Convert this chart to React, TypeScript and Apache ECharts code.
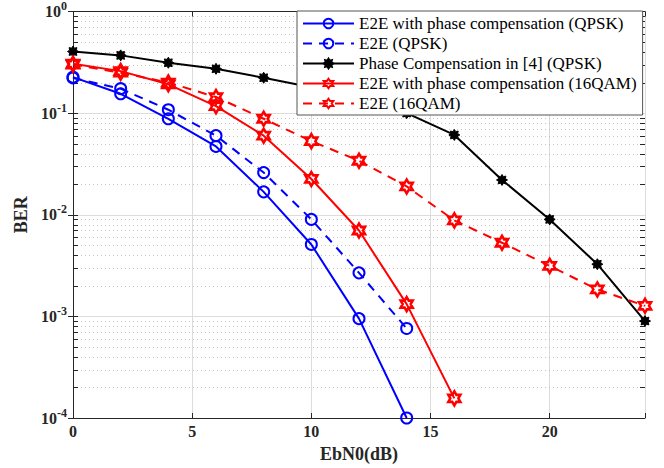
import React, { useEffect, useRef } from 'react';
import * as echarts from 'echarts';

const FONT = '"Liberation Serif", "Times New Roman", serif';

const ebn0 = [0, 2, 4, 6, 8, 10, 12, 14, 16, 18, 20, 22, 24];
const xTicks = [0, 5, 10, 15, 20];
const yDecades = [1e-4, 1e-3, 1e-2, 1e-1, 1];

const qpskE2EPhase = [0.226, 0.155, 0.088, 0.047, 0.0168, 0.0051, 0.00095, 0.0001];
const qpskE2E = [0.222, 0.174, 0.108, 0.06, 0.026, 0.009, 0.00268, 0.00076];
const phaseComp4 = [0.404, 0.37, 0.313, 0.273, 0.223, 0.18, 0.143, 0.1, 0.061, 0.022, 0.009, 0.00326, 0.0009];
const qam16E2EPhase = [0.306, 0.259, 0.192, 0.117, 0.06, 0.0225, 0.007, 0.00132, 0.000156];
const qam16E2E = [0.3, 0.25, 0.2, 0.144, 0.088, 0.053, 0.034, 0.019, 0.0088, 0.0053, 0.00314, 0.00184, 0.00127];

const names = [
  'E2E with phase compensation (QPSK)',
  'E2E (QPSK)',
  'Phase Compensation in [4] (QPSK)',
  'E2E with phase compensation (16QAM)',
  'E2E (16QAM)',
];

// minor log grid positions (2..9 within each decade)
const minorVals: number[] = [];
for (let d = -4; d < 0; d++) {
  for (let m = 2; m <= 9; m++) minorVals.push(m * Math.pow(10, d));
}

const HEXAGRAM =
  'path://M0,-10 L2.89,-5 L8.66,-5 L5.77,0 L8.66,5 L2.89,5 L0,10 L-2.89,5 L-8.66,5 L-5.77,0 L-8.66,-5 L-2.89,-5 Z';
const ASTER =
  'path://M0,-10 L2.5,-6 L7.07,-7.07 L6,-2.5 L10,0 L6,2.5 L7.07,7.07 L2.5,6 L0,10 L-2.5,6 L-7.07,7.07 L-6,2.5 L-10,0 L-6,-2.5 L-7.07,-7.07 L-2.5,-6 Z';

const pairs = (vals: number[]) => vals.map((v, i) => [ebn0[i], v]);

export default function App() {
  const ref = useRef<HTMLDivElement>(null);
  useEffect(() => {
    if (!ref.current) return;
    const chart = echarts.init(ref.current, null, { renderer: 'svg' });
    const axisColor = '#262626';
    const mk = (
      name: string,
      data: number[],
      color: string,
      dashed: boolean,
      symbol: string,
      size: any,
      filled: boolean,
      bw: number
    ) => ({
      name,
      type: 'line',
      data: pairs(data),
      clip: false,
      symbol,
      symbolSize: size,
      showAllSymbol: true,
      color,
      lineStyle: { color, width: 2, type: dashed ? [9, 7] : 'solid' },
      itemStyle: filled
        ? { color, borderColor: color, borderWidth: bw }
        : { color: 'rgba(0,0,0,0)', borderColor: color, borderWidth: bw },
      emphasis: { disabled: true },
      z: 3,
    });
    chart.setOption({
      animation: false,
      backgroundColor: '#fff',
      grid: { left: 73, right: 19, top: 11, bottom: 50, containLabel: false },
      legend: {
        data: names,
        orient: 'vertical',
        left: 297,
        top: 11,
        padding: [4, 6, 3, 5],
        itemWidth: 51,
        itemHeight: 12,
        itemGap: 3,
        backgroundColor: '#fff',
        borderColor: '#555',
        borderWidth: 1,
        borderRadius: 0,
        selectedMode: false,
        textStyle: { fontFamily: FONT, fontSize: 17, color: '#000' },
        z: 10,
      },
      xAxis: [
        {
          type: 'value',
          min: 0,
          max: 24,
          interval: 5,
          name: 'EbN0(dB)',
          nameLocation: 'middle',
          nameGap: 27,
          nameTextStyle: { fontFamily: FONT, fontSize: 18, fontWeight: 'bold', color: '#262626' },
          axisLine: { show: true, lineStyle: { color: axisColor, width: 1 } },
          axisTick: { show: true, inside: true, length: 5, lineStyle: { color: axisColor } },
          axisLabel: {
            margin: 5,
            fontFamily: FONT,
            fontSize: 16,
            fontWeight: 'bold',
            color: '#262626',
            formatter: (v: number) => (xTicks.includes(v) ? String(v) : ''),
          },
          splitLine: { show: true, lineStyle: { color: '#dcdcdc', width: 1 } },
        },
        {
          type: 'value',
          position: 'top',
          min: 0,
          max: 24,
          interval: 5,
          axisLine: { show: true, lineStyle: { color: axisColor, width: 1 } },
          axisTick: { show: true, inside: true, length: 5, lineStyle: { color: axisColor } },
          axisLabel: { show: false },
          splitLine: { show: false },
        },
      ],
      yAxis: [
        {
          type: 'log',
          logBase: 10,
          min: 1e-4,
          max: 1,
          name: 'BER',
          nameLocation: 'middle',
          nameRotate: 90,
          nameGap: 42,
          nameTextStyle: { fontFamily: FONT, fontSize: 18, fontWeight: 'bold', color: '#262626' },
          axisLine: { show: true, lineStyle: { color: axisColor, width: 1 } },
          axisTick: { show: true, inside: true, length: 5, lineStyle: { color: axisColor } },
          axisLabel: {
            margin: 6,
            formatter: (v: number) => {
              const e = Math.round(Math.log10(v));
              return yDecades.some((d) => Math.abs(Math.log10(d) - e) < 1e-6) ? `{b|10}{s|${e}}` : '';
            },
            rich: {
              b: { fontFamily: FONT, fontSize: 16, fontWeight: 'bold', color: '#262626' },
              s: { fontFamily: FONT, fontSize: 12, fontWeight: 'bold', color: '#262626', padding: [0, 0, 11, 0] },
            },
          },
          splitLine: { show: true, lineStyle: { color: '#dcdcdc', width: 1 } },
        },
        {
          type: 'log',
          logBase: 10,
          min: 1e-4,
          max: 1,
          position: 'right',
          axisLine: { show: true, lineStyle: { color: axisColor, width: 1 } },
          axisTick: { show: true, inside: true, length: 5, lineStyle: { color: axisColor } },
          axisLabel: { show: false },
          splitLine: { show: false },
        },
      ],
      series: [
        {
          type: 'custom',
          name: 'minorGrid',
          silent: true,
          z: 1,
          clip: false,
          data: minorVals.map((v) => [0, v]),
          renderItem: (_p: any, api: any) => {
            const v = api.value(1);
            const a = api.coord([0, v]);
            const b = api.coord([24, v]);
            const y = Math.round(a[1]) + 0.5;
            return {
              type: 'group',
              children: [
                {
                  type: 'line',
                  shape: { x1: a[0], y1: y, x2: b[0], y2: y },
                  style: { stroke: '#c4c4c4', lineWidth: 1, lineDash: [1, 3] },
                },
                {
                  type: 'line',
                  shape: { x1: a[0], y1: y, x2: a[0] + 5, y2: y },
                  style: { stroke: axisColor, lineWidth: 1 },
                },
                {
                  type: 'line',
                  shape: { x1: b[0] - 5, y1: y, x2: b[0], y2: y },
                  style: { stroke: axisColor, lineWidth: 1 },
                },
              ],
            };
          },
        },
        mk(names[0], qpskE2EPhase, '#0000ff', false, 'circle', 11, false, 2),
        mk(names[1], qpskE2E, '#0000ff', true, 'circle', 11, false, 2),
        mk(names[2], phaseComp4, '#000000', false, ASTER, 11, true, 1),
        mk(names[3], qam16E2EPhase, '#ff0000', false, HEXAGRAM, [12, 14], false, 2.6),
        mk(names[4], qam16E2E, '#ff0000', true, HEXAGRAM, [12, 14], false, 2.6),
      ],
    });
    return () => chart.dispose();
  }, []);
  return (
    <div
      ref={ref}
      style={{ position: 'fixed', left: 0, top: 0, width: 664, height: 468, background: '#fff' }}
    />
  );
}
